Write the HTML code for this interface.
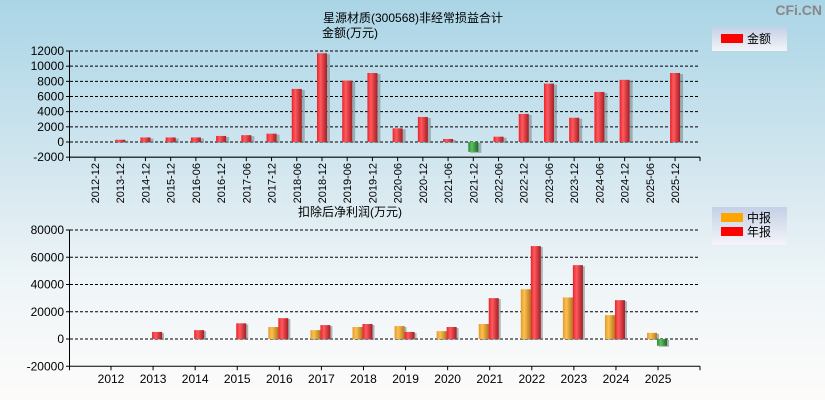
<!DOCTYPE html>
<html><head><meta charset="utf-8"><style>
html,body{margin:0;padding:0;width:825px;height:400px;overflow:hidden}
body{background:linear-gradient(#aad5e6,#dbeaf1 50%,#eef5f8 70%,#fdfbfa);font-family:"Liberation Sans","Noto Sans CJK SC",sans-serif}
svg text{font-family:"Liberation Sans","Noto Sans CJK SC",sans-serif}
</style></head><body>
<svg id="c" width="825" height="400" xmlns="http://www.w3.org/2000/svg">
<defs>
<linearGradient id="gr" x1="0" x2="1"><stop offset="0" stop-color="#e8232b"/><stop offset=".35" stop-color="#ff5a5f"/><stop offset="1" stop-color="#a51d22"/></linearGradient>
<linearGradient id="go" x1="0" x2="1"><stop offset="0" stop-color="#e09a2a"/><stop offset=".35" stop-color="#ffc050"/><stop offset="1" stop-color="#b07818"/></linearGradient>
<linearGradient id="gg" x1="0" x2="1"><stop offset="0" stop-color="#2a8a30"/><stop offset=".35" stop-color="#5cc060"/><stop offset="1" stop-color="#1e6a22"/></linearGradient>
<linearGradient id="lg" x1="0" y1="0" x2="0" y2="1"><stop offset="0" stop-color="#c4d0e6"/><stop offset="1" stop-color="#f4f4f8"/></linearGradient>
</defs>
<text x="822" y="15" font-size="14" font-weight="bold" fill="#888" text-anchor="end">CFi.CN</text>
<text x="323" y="22" font-size="12">星源材质(300568)非经常损益合计</text>
<text x="322" y="37" font-size="12">金额(万元)</text>
<text x="298" y="216" font-size="12">扣除后净利润(万元)</text>
<g>
<rect x="712" y="27" width="75" height="24" fill="url(#lg)"/>
<rect x="721" y="34" width="22" height="9" fill="#f00"/>
<text x="747" y="43" font-size="12">金额</text></g>
<g>
<rect x="712" y="207" width="75" height="38" fill="url(#lg)"/>
<rect x="721" y="213" width="22" height="9" fill="#ffa500"/>
<text x="747" y="222" font-size="12">中报</text>
<rect x="721" y="227" width="22" height="9" fill="#f00"/>
<text x="747" y="236" font-size="12">年报</text></g>
<g id="top"></g><g id="bot"></g>
</svg>
<script>
const topCats=["2012-12","2013-12","2014-12","2015-12","2016-06","2016-12","2017-06","2017-12","2018-06","2018-12","2019-06","2019-12","2020-06","2020-12","2021-06","2021-12","2022-06","2022-12","2023-06","2023-12","2024-06","2024-12","2025-06","2025-12"];
const topVals=[0,300,600,600,600,800,900,1100,7000,11700,8100,9100,1800,3300,400,-1300,700,3700,7700,3200,6600,8200,0,9100];
const topTicks=[12000,10000,8000,6000,4000,2000,0,-2000];
const botCats=["2012","2013","2014","2015","2016","2017","2018","2019","2020","2021","2022","2023","2024","2025"];
const midVals=[0,0,0,0,8800,6500,8800,9500,5800,11000,36500,30500,17500,4500];
const annVals=[0,5200,6500,11500,15300,10200,11000,5200,8800,30000,68200,54200,28500,-5000];
const botTicks=[80000,60000,40000,20000,0,-20000];
const NS="http://www.w3.org/2000/svg";
function mk(p,t,a){const e=document.createElementNS(NS,t);for(const k in a)e.setAttribute(k,a[k]);p.appendChild(e);return e;}
const tg=document.getElementById('top');
const ty=v=>142-v*(91/12000);
const tx=i=>95+i*25.22;
topTicks.forEach(v=>{
 const l=mk(tg,'line',{x1:70,x2:700,y1:ty(v),y2:ty(v),stroke:'#000','stroke-dasharray':v===-2000?'':'3,2'});
 if(v===-2000)l.setAttribute('stroke-width','1.2');
 
 
 const t=mk(tg,'text',{x:64,y:ty(v)+4,'font-size':12,'text-anchor':'end'});t.textContent=v;
 
 
 mk(tg,'line',{x1:66,x2:70,y1:ty(v),y2:ty(v),stroke:'#000'});
});
mk(tg,'line',{x1:69.5,x2:69.5,y1:ty(12000),y2:ty(-2000)+4,stroke:'#000'});
mk(tg,'line',{x1:700,x2:700,y1:ty(-2000),y2:ty(-2000)+4,stroke:'#000'});
topCats.forEach((c,i)=>{
 const x=tx(i),v=topVals[i];
 mk(tg,'line',{x1:x,x2:x,y1:ty(-2000),y2:ty(-2000)+4,stroke:'#000'});
 const t=mk(tg,'text',{x:0,y:0,'font-size':11,'text-anchor':'end',transform:`translate(${x+4},163) rotate(-90)`});t.textContent=c;
 
 
 if(v!==0){const y0=Math.min(ty(0),ty(v)),h=Math.abs(ty(v)-ty(0));
  mk(tg,'rect',{x:x-3,y:y0+1,width:11,height:h,fill:'#7a8a90',opacity:.6});
  const r=mk(tg,'rect',{x:x-5,y:y0,width:10,height:h,fill:v<0?'url(#gg)':'url(#gr)'});
  
  }
});
const bg=document.getElementById('bot');
const by=v=>339-v*(109/80000);
const bx=i=>111+i*42.08;
botTicks.forEach(v=>{
 const l=mk(bg,'line',{x1:70,x2:700,y1:by(v),y2:by(v),stroke:'#000','stroke-dasharray':v===-20000?'':'3,2'});
 
 
 const t=mk(bg,'text',{x:64,y:by(v)+4,'font-size':12,'text-anchor':'end'});t.textContent=v;
 
 
 mk(bg,'line',{x1:66,x2:70,y1:by(v),y2:by(v),stroke:'#000'});
});
mk(bg,'line',{x1:69.5,x2:69.5,y1:by(80000),y2:by(-20000)+4,stroke:'#000'});
mk(bg,'line',{x1:700,x2:700,y1:by(-20000),y2:by(-20000)+4,stroke:'#000'});
function bar(x,v,fill,name){
 if(v===0)return;const y0=Math.min(by(0),by(v)),h=Math.abs(by(v)-by(0));
 mk(bg,'rect',{x:x+2,y:y0+1,width:10,height:h,fill:'#7a8a90',opacity:.6});
 const r=mk(bg,'rect',{x:x,y:y0,width:10,height:h,fill:fill});
 
 
}
botCats.forEach((c,i)=>{
 const x=bx(i);
 mk(bg,'line',{x1:x,x2:x,y1:by(-20000),y2:by(-20000)+4,stroke:'#000'});
 const t=mk(bg,'text',{x:x,y:383,'font-size':12,'text-anchor':'middle'});t.textContent=c;
 
 
 bar(x-11,midVals[i],'url(#go)','mid-bar-'+c);
 bar(x-1,annVals[i],annVals[i]<0?'url(#gg)':'url(#gr)','annual-bar-'+c);
});
</script>
</body></html>
